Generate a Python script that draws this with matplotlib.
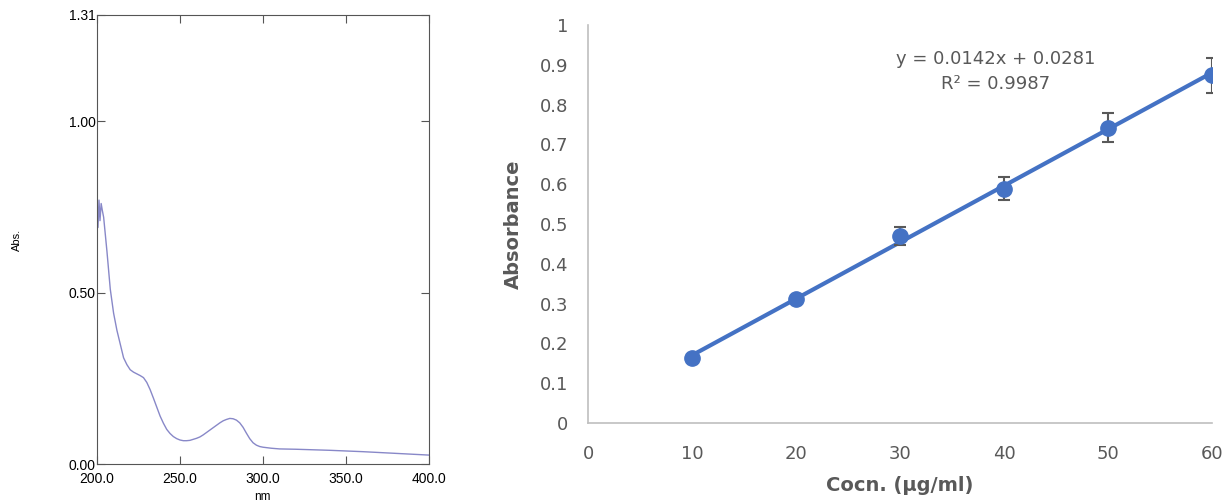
import numpy as np
import matplotlib
matplotlib.use("Agg")
import matplotlib.pyplot as plt
from matplotlib.ticker import FixedLocator

# UV spectrum (left panel)
wavelength = [200, 200.6, 201.2, 201.8, 202.5, 203.2, 204, 206, 208, 210, 212, 214, 216, 218,
              220, 222, 224, 226, 228, 230, 232, 234, 236, 238, 240, 242, 244, 246, 248,
              250, 252, 254, 256, 258, 260, 262, 264, 266, 268, 270, 272, 274, 276, 278,
              280, 282, 284, 286, 288, 290, 292, 294, 296, 298, 300, 305, 310, 320, 340,
              360, 380, 400]
abs_values = [0.78, 0.69, 0.77, 0.71, 0.76, 0.74, 0.72, 0.62, 0.51, 0.44, 0.39, 0.35, 0.31, 0.29,
              0.275, 0.268, 0.263, 0.258, 0.252, 0.238, 0.217, 0.192, 0.166, 0.140, 0.119, 0.101,
              0.089, 0.080, 0.074, 0.070, 0.068, 0.068, 0.069, 0.072, 0.075, 0.079, 0.085, 0.092,
              0.099, 0.106, 0.113, 0.120, 0.126, 0.130, 0.133, 0.132, 0.128, 0.120, 0.107, 0.090,
              0.074, 0.062, 0.055, 0.051, 0.049, 0.046, 0.044, 0.043, 0.040, 0.036, 0.031, 0.026]

# calibration curve (right panel)
conc = [10, 20, 30, 40, 50, 60]
absorbance = [0.163, 0.311, 0.470, 0.589, 0.742, 0.874]
abs_err = [0.003, 0.008, 0.023, 0.028, 0.037, 0.044]
fit_slope = 0.0142
fit_icpt = 0.0281

fig = plt.figure(figsize=(12.27, 5.04), dpi=100)

# ---- left: spectrum
ax1 = fig.add_axes([97/1227, 1-464/504, 332/1227, 449/504])
ax1.plot(wavelength, abs_values, color="#8888c8", lw=1.0)
ax1.set_xlim(200, 400)
ax1.set_ylim(0, 1.31)
ax1.xaxis.set_major_locator(FixedLocator([200, 250, 300, 350, 400]))
ax1.yaxis.set_major_locator(FixedLocator([0, 0.5, 1.0, 1.31]))
ax1.set_xticklabels(["200.0", "250.0", "300.0", "350.0", "400.0"])
ax1.set_yticklabels(["0.00", "0.50", "1.00", "1.31"])
ax1.tick_params(direction="in", top=True, right=True, length=6, width=0.8,
                color="#555555", labelsize=10, pad=1)
ax1.tick_params(axis="x", pad=6)
for lab in ax1.get_xticklabels() + ax1.get_yticklabels():
    lab.set_family("Liberation Sans")
for sp in ax1.spines.values():
    sp.set_color("#555555")
    sp.set_linewidth(0.8)
fig.text(17/1227, 1-240/504, "Abs.", rotation=90, ha="center", va="center",
         fontsize=8, family="Liberation Sans")
fig.text(262/1227, 1-497/504, "nm", ha="center", va="center",
         fontsize=8.5, family="Liberation Sans")

# ---- right: calibration
grey = "#595959"
ax2 = fig.add_axes([588/1227, 1-423/504, 624/1227, 398/504])
xf = np.array([conc[0], conc[-1]])
ax2.plot(xf, fit_slope*xf + fit_icpt, color="#4472C4", lw=3, zorder=2)
ax2.errorbar(conc, absorbance, yerr=abs_err, fmt="o", color="#4472C4", ms=11,
             ecolor=grey, elinewidth=1.5, capsize=4, capthick=1.5, zorder=3)
ax2.set_xlim(0, 60)
ax2.set_ylim(0, 1)
ax2.set_xticks(range(0, 61, 10))
ax2.set_yticks(np.round(np.arange(0, 1.01, 0.1), 1))
ax2.set_yticklabels(["0", "0.1", "0.2", "0.3", "0.4", "0.5", "0.6", "0.7", "0.8", "0.9", "1"])
ax2.tick_params(length=0, labelsize=13, labelcolor=grey, pad=14)
ax2.tick_params(axis="x", pad=16)
for sp in ["top", "right"]:
    ax2.spines[sp].set_visible(False)
for sp in ["left", "bottom"]:
    ax2.spines[sp].set_color("#BFBFBF")
    ax2.spines[sp].set_linewidth(1.2)
ax2.set_xlabel("Cocn. (µg/ml)", fontsize=14, fontweight="bold", color=grey, labelpad=9)
ax2.set_ylabel("Absorbance", fontsize=14, fontweight="bold", color=grey, labelpad=12)
ax2.text(39.2, 0.883, "y = 0.0142x + 0.0281\nR² = 0.9987", ha="center", va="center",
         fontsize=13, color=grey, linespacing=1.45)

fig.savefig("out.png", dpi=100)
